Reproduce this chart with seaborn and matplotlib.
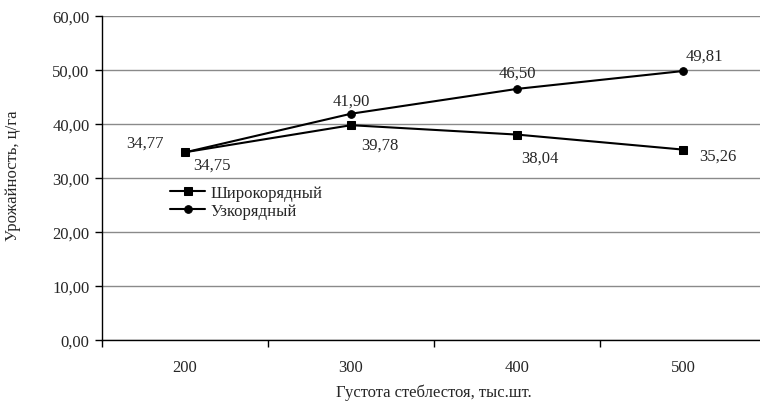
import pandas as pd
import matplotlib
matplotlib.use("Agg")
import matplotlib.pyplot as plt
import matplotlib.ticker as mticker
import seaborn as sns

# data
densities = ["200", "300", "400", "500"]
wide_row = [34.77, 39.78, 38.04, 35.26]
narrow_row = [34.75, 41.90, 46.50, 49.81]
series_names = ["Широкорядный", "Узкорядный"]

sns.set_theme(style="white")
plt.rcParams["font.family"] = ["Liberation Serif", "DejaVu Serif"]
fs = 12

df = pd.DataFrame({
    "pos": list(range(len(densities))) * 2,
    "value": wide_row + narrow_row,
    "series": [series_names[0]] * 4 + [series_names[1]] * 4,
})

fig = plt.figure(figsize=(7.6, 4.06), dpi=100)
ax = fig.add_axes([102 / 760, 65 / 406, 664 / 760, 324 / 406])

sns.lineplot(data=df, x="pos", y="value", hue="series", style="series",
             markers={series_names[0]: "s", series_names[1]: "o"},
             dashes=False, palette=["black", "black"], markersize=5.5,
             linewidth=1.5, markeredgecolor="black", ax=ax)

ax.set_ylim(0, 60)
ax.set_xlim(-0.5, 3.5)
ax.set_yticks(range(0, 61, 10))
ax.yaxis.set_major_formatter(mticker.FuncFormatter(lambda v, p: f"{v:.2f}".replace(".", ",")))
ax.grid(axis="y", color="#8a8a8a", linewidth=1)
ax.set_axisbelow(True)

# category boundaries get the ticks, labels sit between them
ax.set_xticks([-0.5, 0.5, 1.5, 2.5, 3.5])
ax.set_xticklabels([])
ax.set_xticks(range(len(densities)), minor=True)
ax.set_xticklabels(densities, minor=True)
ax.tick_params(axis="x", which="major", direction="out", length=5, color="black", width=1, bottom=True)
ax.tick_params(axis="x", which="minor", length=0, pad=14, labelsize=fs)
ax.tick_params(axis="y", direction="out", length=5, color="black", width=1, left=True, labelsize=fs, pad=4)

for s in ["top", "right"]:
    ax.spines[s].set_visible(False)
for s in ["left", "bottom"]:
    ax.spines[s].set_color("black")
    ax.spines[s].set_linewidth(1)

ax.set_xlabel("Густота стеблестоя, тыс.шт.", fontsize=fs)
ax.xaxis.set_label_coords(0.5, -(385 - 341) / 324)
ax.set_ylabel("Урожайность, ц/га", fontsize=fs)
ax.yaxis.set_label_coords((21 - 102) / 664, 0.51)

wide_off = [(-40, 10), (29, -19), (23, -23), (35, -6)]
narrow_off = [(27, -12), (0, 13), (0, 16), (21, 15)]
for i, (v, off) in enumerate(zip(wide_row, wide_off)):
    ax.annotate(f"{v:.2f}".replace(".", ","), (i, v), xytext=off,
                textcoords="offset pixels", ha="center", va="center", fontsize=fs)
for i, (v, off) in enumerate(zip(narrow_row, narrow_off)):
    ax.annotate(f"{v:.2f}".replace(".", ","), (i, v), xytext=off,
                textcoords="offset pixels", ha="center", va="center", fontsize=fs)

ax.legend(loc="upper left", bbox_to_anchor=(170 / 760, 1 - 186 / 406),
          bbox_transform=fig.transFigure, frameon=False, fontsize=fs,
          handlelength=2.1, handletextpad=0.35, labelspacing=0.1,
          borderaxespad=0, borderpad=0)

fig.savefig("out.png", dpi=100)
